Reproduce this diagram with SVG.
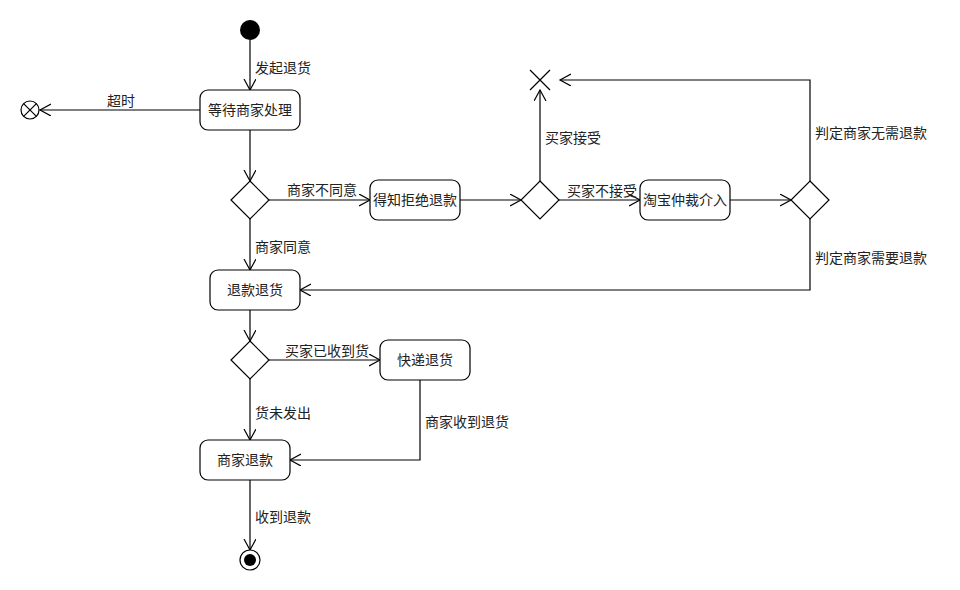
<svg xmlns="http://www.w3.org/2000/svg" width="960" height="590" viewBox="0 0 960 590">
<style>
.n{fill:#fff;stroke:#000;stroke-width:1.2}
.e{fill:none;stroke:#000;stroke-width:1.2}
text{font-family:"Liberation Sans","Noto Sans CJK SC",sans-serif;font-size:14px;fill:#222}
.c{text-anchor:middle}
</style>
<defs>
<marker id="a" markerUnits="userSpaceOnUse" markerWidth="14" markerHeight="14" refX="11" refY="6" orient="auto">
<path d="M0,0 L11,6 L0,12" fill="none" stroke="#000" stroke-width="1.2"/>
</marker>
</defs>
<rect width="960" height="590" fill="#fff"/>
<g id="connectors">
<line class="e" x1="250" y1="40" x2="250" y2="90" marker-end="url(#a)"/>
<line class="e" x1="200" y1="110" x2="40" y2="110" marker-end="url(#a)"/>
<line class="e" x1="250" y1="130" x2="250" y2="181" marker-end="url(#a)"/>
<line class="e" x1="269" y1="200" x2="370" y2="200" marker-end="url(#a)"/>
<line class="e" x1="460" y1="200" x2="521" y2="200" marker-end="url(#a)"/>
<line class="e" x1="540" y1="181" x2="540" y2="90" marker-end="url(#a)"/>
<line class="e" x1="559" y1="200" x2="640" y2="200" marker-end="url(#a)"/>
<line class="e" x1="730" y1="200" x2="791" y2="200" marker-end="url(#a)"/>
<polyline class="e" points="810,181 810,80 560,80" marker-end="url(#a)"/>
<polyline class="e" points="810,219 810,290 300,290" marker-end="url(#a)"/>
<line class="e" x1="250" y1="219" x2="250" y2="270" marker-end="url(#a)"/>
<line class="e" x1="250" y1="310" x2="250" y2="341" marker-end="url(#a)"/>
<line class="e" x1="269" y1="360" x2="380" y2="360" marker-end="url(#a)"/>
<line class="e" x1="250" y1="379" x2="250" y2="440" marker-end="url(#a)"/>
<polyline class="e" points="420,380 420,460 290,460" marker-end="url(#a)"/>
<line class="e" x1="250" y1="480" x2="250" y2="550" marker-end="url(#a)"/>
<text x="255" y="73">发起退货</text>
<text x="107" y="106">超时</text>
<text x="287" y="195">商家不同意</text>
<text x="545" y="143">买家接受</text>
<text x="567" y="196">买家不接受</text>
<text x="815" y="138">判定商家无需退款</text>
<text x="815" y="263">判定商家需要退款</text>
<text x="255" y="252">商家同意</text>
<text x="285" y="356">买家已收到货</text>
<text x="255" y="418">货未发出</text>
<text x="425" y="427">商家收到退货</text>
<text x="255" y="522">收到退款</text>
</g>
<g id="start"><circle cx="250" cy="30" r="10" fill="#000"/></g>
<g id="timeout-end"><circle class="n" cx="30" cy="110" r="9"/><path class="e" d="M23.6,103.6 L36.4,116.4 M36.4,103.6 L23.6,116.4"/></g>
<g id="wait"><rect class="n" x="200" y="90" width="100" height="40" rx="8"/><text class="c" x="250" y="115">等待商家处理</text></g>
<g id="d1"><polygon class="n" points="250,181 269,200 250,219 231,200"/></g>
<g id="reject"><rect class="n" x="370" y="180" width="90" height="40" rx="8"/><text class="c" x="415" y="205">得知拒绝退款</text></g>
<g id="d2"><polygon class="n" points="540,181 559,200 540,219 521,200"/></g>
<g id="flow-final"><path class="e" d="M530,70 L550,90 M550,70 L530,90"/></g>
<g id="arbitration"><rect class="n" x="640" y="180" width="90" height="40" rx="8"/><text class="c" x="685" y="205">淘宝仲裁介入</text></g>
<g id="d3"><polygon class="n" points="810,181 829,200 810,219 791,200"/></g>
<g id="refund-return"><rect class="n" x="210" y="270" width="90" height="40" rx="8"/><text class="c" x="255" y="295">退款退货</text></g>
<g id="d4"><polygon class="n" points="250,341 269,360 250,379 231,360"/></g>
<g id="express"><rect class="n" x="380" y="340" width="90" height="40" rx="8"/><text class="c" x="425" y="365">快递退货</text></g>
<g id="merchant-refund"><rect class="n" x="200" y="440" width="90" height="40" rx="8"/><text class="c" x="245" y="465">商家退款</text></g>
<g id="end"><circle class="n" cx="250" cy="560" r="10"/><circle cx="250" cy="560" r="6" fill="#000"/></g>
</svg>
